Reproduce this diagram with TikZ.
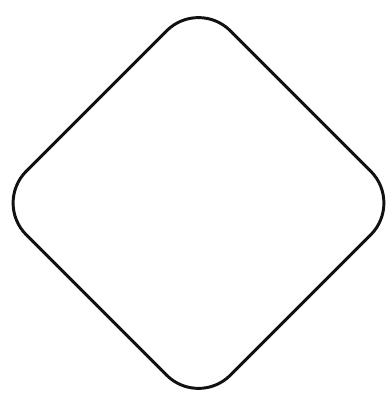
\documentclass[tikz,border=0pt]{standalone}
\usetikzlibrary{shapes.geometric}
\definecolor{Ink}{HTML}{111111}

\begin{document}
\begin{tikzpicture}[x=0.025cm, y=0.025cm]
            \useasboundingbox (0,0) rectangle (388,394);
            \tikzset{decision/.style={diamond, draw=Ink, line width=2.1pt, rounded corners=1.125cm, inner sep=0pt, aspect=1, minimum width=10.23cm, minimum height=10.23cm}}
            \node[decision] (choice) at (198.5,191) {};
        \end{tikzpicture}
\end{document}
